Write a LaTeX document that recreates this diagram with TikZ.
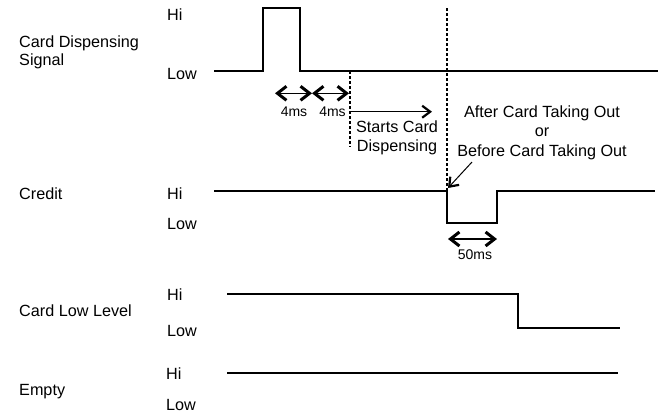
\documentclass[tikz,border=0pt]{standalone}
\usepackage{fontspec}
\setmainfont{Liberation Sans}
\usetikzlibrary{arrows.meta}
\begin{document}
\begin{tikzpicture}[x=1bp,y=-1bp,
  lbl/.style={anchor=base west,inner sep=0pt,font=\fontsize{16.2bp}{19bp}\selectfont},
  note/.style={anchor=base,inner sep=0pt,font=\fontsize{16.2bp}{19bp}\selectfont},
  small/.style={anchor=base,inner sep=0pt,font=\fontsize{14bp}{17bp}\selectfont},
  wave/.style={line width=2bp,line join=miter},
  dbl/.style={line width=1.3bp,{Straight Barb[line width=3bp,length=9bp,width=14bp]}-{Straight Barb[line width=3bp,length=9bp,width=14bp]}},
  thinarr/.style={line width=1bp,-{Straight Barb[line width=2.2bp,length=8bp,width=12bp]}},
  guide/.style={line width=1.2bp,dash pattern=on 3bp off 2bp}]
\useasboundingbox (0,0) rectangle (660,414);
% row labels
\node[lbl] (cds1) at (19,47.3) {Card Dispensing};
\node[lbl] (cds2) at (19,65) {Signal};
\node[lbl] (h1) at (167,20.7) {Hi};
\node[lbl] (l1) at (167,79) {Low};
\node[lbl] (cr) at (19,199) {Credit};
\node[lbl] (h2) at (167,199) {Hi};
\node[lbl] (l2) at (167,229.3) {Low};
\node[lbl] (cll) at (19,316.7) {Card Low Level};
\node[lbl] (h3) at (167,300) {Hi};
\node[lbl] (l3) at (167,336) {Low};
\node[lbl] (em) at (19,395) {Empty};
\node[lbl] (h4) at (166,379.3) {Hi};
\node[lbl] (l4) at (166,410) {Low};
% waveforms
\draw[wave] (214,71) -- (263,71) -- (263,8.3) -- (300,8.3) -- (300,71) -- (658,71);
\draw[wave] (214,190.5) -- (447,190.5) -- (447,222.7) -- (497,222.7) -- (497,190.5) -- (655,190.5);
\draw[wave] (227,293.5) -- (518,293.5) -- (518,328) -- (620,328);
\draw[wave] (227,373) -- (618,373);
% guides
\draw[guide] (350,71) -- (350,147);
\draw[guide] (447,8) -- (447,190);
% timing arrows
\coordinate (a1) at (275,93.3);
\coordinate (a2) at (312,93.3);
\coordinate (a3) at (349,93.3);
\draw[dbl] (a1) -- (a2);
\draw[dbl] (a2) -- (a3);
\node[small] (t1) at (294,116) {4ms};
\node[small] (t2) at (332.5,116) {4ms};
\coordinate (s1) at (350,111.7);
\coordinate (s2) at (432,111.7);
\draw[thinarr] (s1) -- (s2);
\node[note] (sc1) at (397,132.7) {Starts Card};
\node[note] (sc2) at (397,151.7) {Dispensing};
\node[note] (n1) at (542,117.3) {After Card Taking Out};
\node[note] (n2) at (542,136) {or};
\node[note] (n3) at (542,156) {Before Card Taking Out};
\coordinate (p1) at (472,162);
\coordinate (p2) at (448,188);
\draw[thinarr] (p1) -- (p2);
\coordinate (b1) at (448,239);
\coordinate (b2) at (497,239);
\draw[dbl] (b1) -- (b2);
\node[small] (t3) at (475,259) {50ms};
\end{tikzpicture}
\end{document}
